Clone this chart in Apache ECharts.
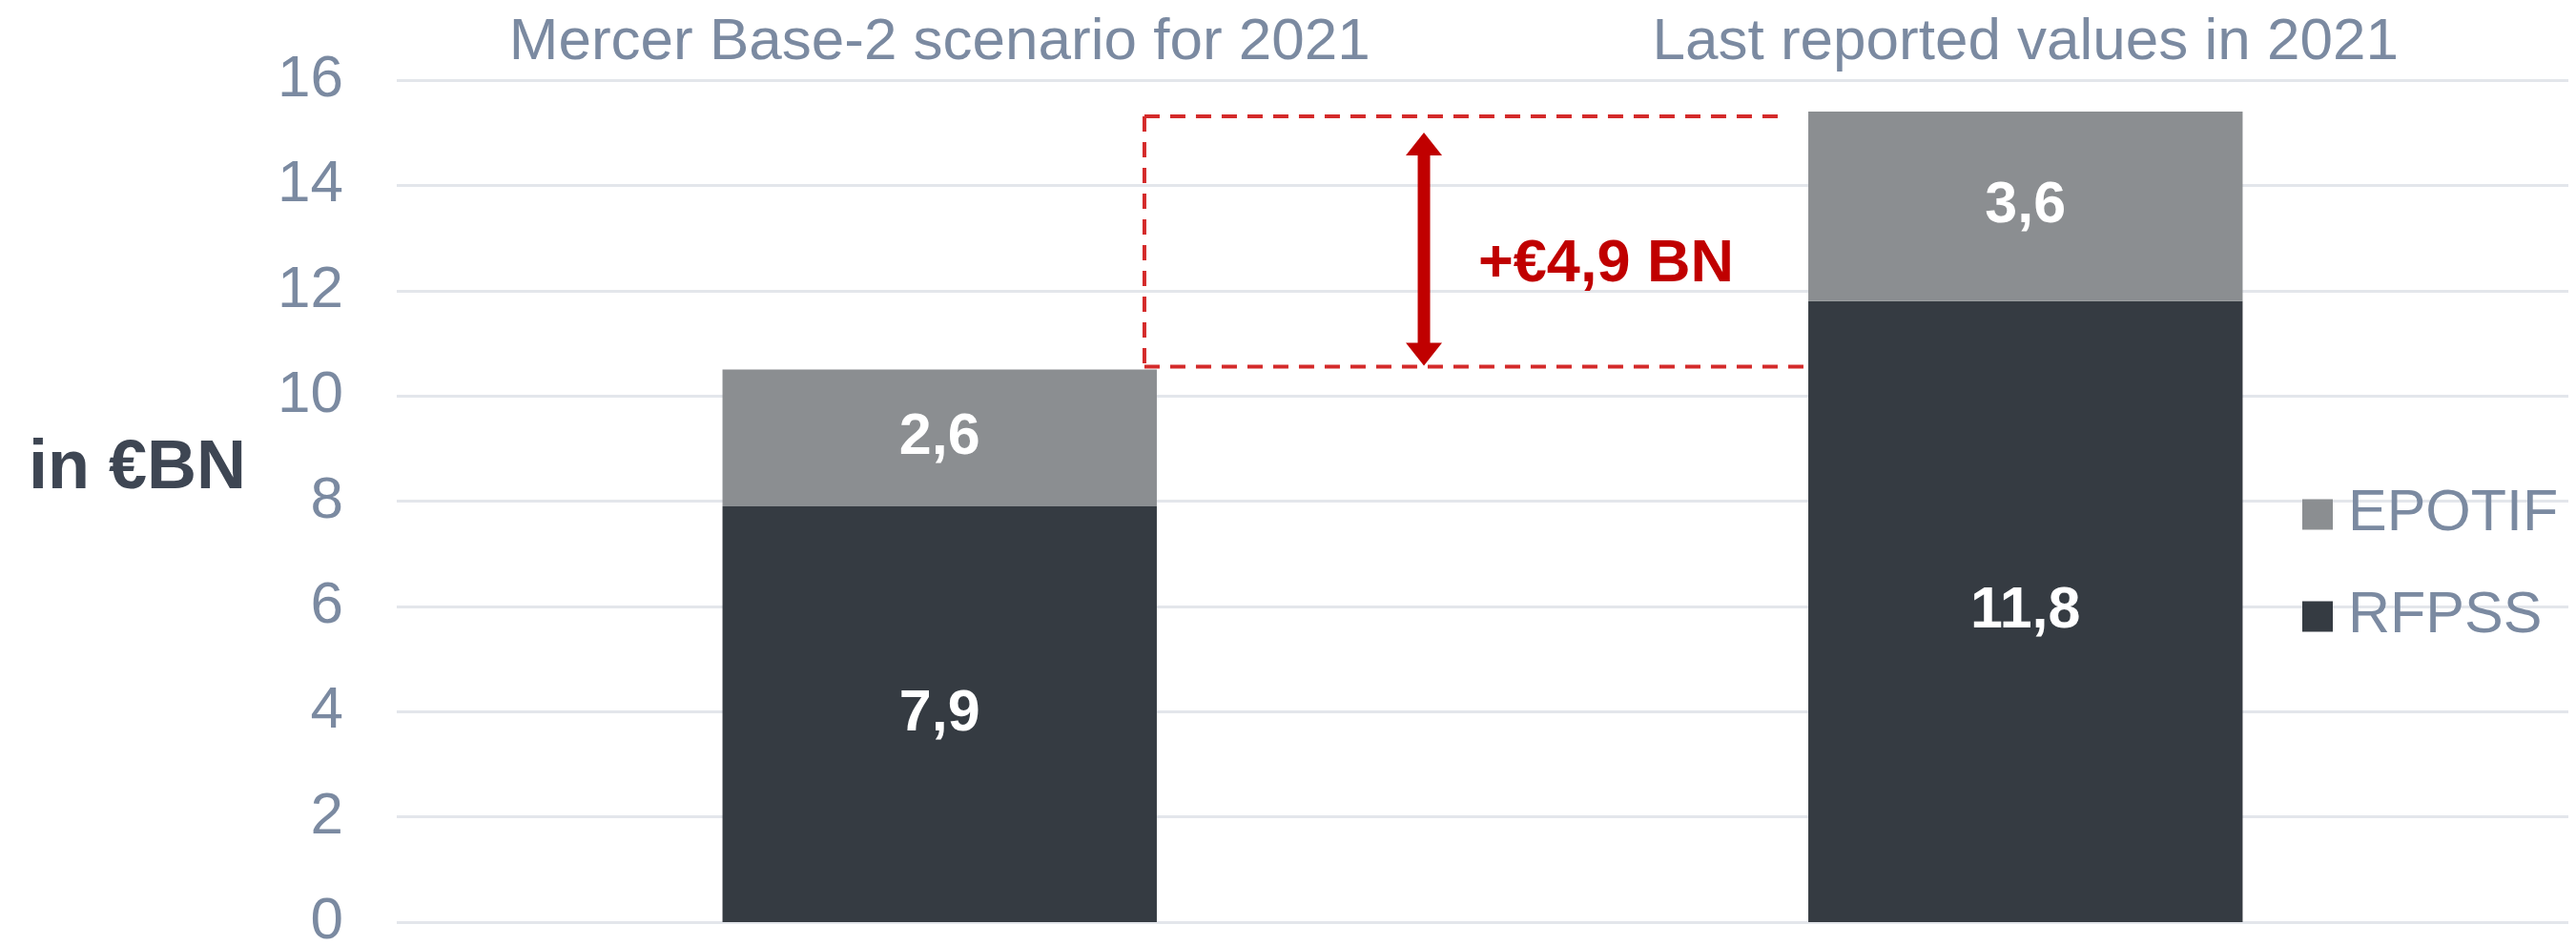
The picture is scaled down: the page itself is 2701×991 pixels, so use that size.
<!DOCTYPE html>
<html>
<head>
<meta charset="utf-8">
<script src="https://cdn.jsdelivr.net/npm/echarts@6/dist/echarts.min.js"></script>
<style>
  html, body { margin: 0; padding: 0; background: #fff; }
  #main { width: 2701px; height: 991px; }
</style>
</head>
<body>
<div id="main"></div>
<script>
// data
var categories = ['Mercer Base-2 scenario for 2021', 'Last reported values in 2021'];
var rfpss = [7.9, 11.8];
var epotif = [2.6, 3.6];
var legendNames = ['EPOTIF', 'RFPSS'];
var yMin = 0, yMax = 16, yStep = 2;

var FONT = '"Liberation Sans", Arial, sans-serif';
var SLATE = '#7b8aa1';
var RED = '#c00000';

function fmt (v) {
  return String(v).replace('.', ',');
}

var myChart = echarts.init(document.getElementById('main'));

var option = {
  animation: false,
  backgroundColor: '#fff',
  grid: { left: 416, right: 8, top: 84, bottom: 24, outerBoundsMode: 'none' },
  legend: {
    data: legendNames,
    orient: 'vertical',
    left: 2409,
    top: 504,
    icon: 'rect',
    itemWidth: 32,
    itemHeight: 32,
    itemGap: 46,
    textStyle: { fontSize: 61, color: SLATE, fontFamily: FONT, padding: [0, 0, 0, 11] }
  },
  xAxis: {
    type: 'category',
    data: categories,
    position: 'top',
    axisLine: { show: false },
    axisTick: { show: false },
    splitLine: { show: false },
    axisLabel: { interval: 0, fontSize: 62, color: SLATE, fontFamily: FONT, margin: 8 }
  },
  yAxis: {
    type: 'value',
    min: yMin,
    max: yMax,
    interval: yStep,
    axisLine: { show: false },
    axisTick: { show: false },
    axisLabel: { fontSize: 62, color: SLATE, fontFamily: FONT, margin: 56 },
    splitLine: { lineStyle: { color: '#e3e6eb', width: 3 } }
  },
  series: [
    {
      name: 'RFPSS',
      type: 'bar',
      stack: 'total',
      barWidth: '40%',
      itemStyle: { color: '#353b42' },
      label: {
        show: true, position: 'inside', color: '#fff', fontSize: 61, fontWeight: 'bold', fontFamily: FONT,
        formatter: function (p) { return fmt(p.value); }
      },
      data: rfpss
    },
    {
      name: 'EPOTIF',
      type: 'bar',
      stack: 'total',
      barWidth: '40%',
      itemStyle: { color: '#8b8e91' },
      label: {
        show: true, position: 'inside', color: '#fff', fontSize: 61, fontWeight: 'bold', fontFamily: FONT,
        formatter: function (p) { return fmt(p.value); }
      },
      data: epotif
    }
  ]
};
myChart.setOption(option);

// gap annotation between the two totals
var tot0 = rfpss[0] + epotif[0];
var tot1 = rfpss[1] + epotif[1];
var p0 = myChart.convertToPixel({ gridIndex: 0 }, [0, tot0]);
var p1 = myChart.convertToPixel({ gridIndex: 0 }, [1, tot1]);
var band = p1[0] - p0[0];
var halfBar = band * 0.2;

var boxLeft = p0[0] + halfBar - 13;
var boxRightTop = p1[0] - halfBar - 23;
var boxRightBottom = p1[0] - halfBar - 5;
var yTop = p1[1] + 5;
var yBottom = p0[1] - 3;
var arrowX = p0[0] + band * 0.446;
var arrowTop = yTop + 17;
var arrowBottom = yBottom - 1;
var dash = { stroke: '#d42a2a', lineWidth: 4, lineDash: [16, 11] };
var gapText = '+€' + fmt((tot1 - tot0).toFixed(1)) + ' BN';

myChart.setOption({
  graphic: [
    { type: 'line', z: 10, shape: { x1: boxLeft, y1: yTop, x2: boxRightTop, y2: yTop }, style: dash },
    { type: 'line', z: 10, shape: { x1: boxLeft, y1: yTop, x2: boxLeft, y2: yBottom }, style: dash },
    { type: 'line', z: 10, shape: { x1: boxLeft, y1: yBottom, x2: boxRightBottom, y2: yBottom }, style: dash },
    { type: 'line', z: 11, shape: { x1: arrowX, y1: arrowTop + 20, x2: arrowX, y2: arrowBottom - 20 }, style: { stroke: RED, lineWidth: 13 } },
    { type: 'polygon', z: 11, shape: { points: [[arrowX, arrowTop], [arrowX - 19, arrowTop + 24], [arrowX + 19, arrowTop + 24]] }, style: { fill: RED } },
    { type: 'polygon', z: 11, shape: { points: [[arrowX, arrowBottom], [arrowX - 19, arrowBottom - 24], [arrowX + 19, arrowBottom - 24]] }, style: { fill: RED } },
    {
      type: 'text', z: 11, x: arrowX + 57, y: (arrowTop + arrowBottom) / 2 + 16,
      style: { text: gapText, fill: RED, fontSize: 63, fontWeight: 'bold', fontFamily: FONT, verticalAlign: 'middle' }
    },
    {
      type: 'text', z: 11, x: 30, y: 492,
      style: { text: 'in €BN', fill: '#3e4653', fontSize: 72, fontWeight: 'bold', fontFamily: FONT, verticalAlign: 'middle' }
    }
  ]
});
</script>
</body>
</html>
